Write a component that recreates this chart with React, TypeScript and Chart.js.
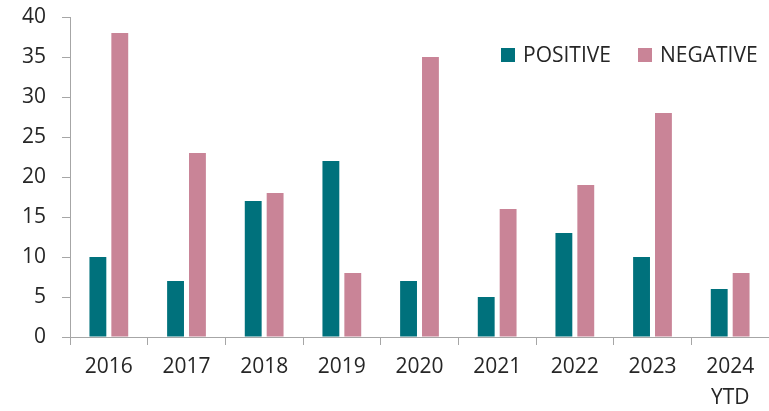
import React, { useEffect, useRef } from "react";
import { Chart, registerables } from "chart.js";

Chart.register(...registerables);

const categories: (string | string[])[] = ["2016", "2017", "2018", "2019", "2020", "2021", "2022", "2023", ["2024", "YTD"]];
const positiveValues = [10, 7, 17, 22, 7, 5, 13, 10, 6];
const negativeValues = [38, 23, 18, 8, 35, 16, 19, 28, 8];
const seriesNames = ["POSITIVE", "NEGATIVE"];
const seriesColors = ["#00717C", "#C98497"];

const FONT = "'Open Sans', sans-serif";
const TEXT = "#262626";
const AXIS = "#A6A6A6";

const legendPlugin = {
  id: "customLegend",
  afterDraw(chart: any) {
    const ctx = chart.ctx;
    ctx.save();
    ctx.font = `21px ${FONT}`;
    ctx.textBaseline = "middle";
    ctx.textAlign = "left";
    const items = [
      { x: 501, label: seriesNames[0], color: seriesColors[0] },
      { x: 638, label: seriesNames[1], color: seriesColors[1] },
    ];
    const y = 55;
    for (const it of items) {
      ctx.fillStyle = it.color;
      ctx.fillRect(it.x, y - 7, 14, 14);
      ctx.fillStyle = TEXT;
      ctx.fillText(it.label, it.x + 22, y + 1);
    }
    ctx.restore();
  },
};

export default function App() {
  const ref = useRef<HTMLCanvasElement | null>(null);
  useEffect(() => {
    if (!ref.current) return;
    const chart = new Chart(ref.current, {
      type: "bar",
      data: {
        labels: categories,
        datasets: [
          {
            label: seriesNames[0],
            data: positiveValues,
            backgroundColor: seriesColors[0],
            categoryPercentage: 0.564,
            barPercentage: 0.77,
          },
          {
            label: seriesNames[1],
            data: negativeValues,
            backgroundColor: seriesColors[1],
            categoryPercentage: 0.564,
            barPercentage: 0.77,
          },
        ],
      },
      options: {
        responsive: false,
        animation: false,
        devicePixelRatio: 1,
        layout: { padding: { left: 0, right: 0, top: 17, bottom: 0 } },
        plugins: {
          legend: { display: false },
          tooltip: { enabled: false },
        },
        scales: {
          x: {
            afterFit(scale: any) {
              scale.height = 74;
              scale.paddingLeft = 0;
              scale.paddingRight = 0;
            },
            grid: {
              display: true,
              drawOnChartArea: false,
              drawTicks: true,
              tickLength: 8,
              color: AXIS,
              offset: true,
            },
            border: { display: true, color: AXIS, width: 1 },
            ticks: {
              color: TEXT,
              font: { family: FONT, size: 21, lineHeight: 1.5 },
              padding: 6,
              maxRotation: 0,
              autoSkip: false,
            },
          },
          y: {
            min: 0,
            max: 40,
            afterFit(scale: any) {
              scale.width = 70;
              scale.paddingTop = 0;
              scale.paddingBottom = 0;
            },
            grid: {
              display: true,
              drawOnChartArea: false,
              drawTicks: true,
              tickLength: 8,
              color: AXIS,
            },
            border: { display: true, color: AXIS, width: 1 },
            ticks: {
              stepSize: 5,
              color: TEXT,
              font: { family: FONT, size: 21 },
              padding: 16,
            },
          },
        },
      },
      plugins: [legendPlugin],
    });
    return () => chart.destroy();
  }, []);
  return (
    <div style={{ position: "absolute", left: 0, top: 0, width: 769, height: 411, background: "#fff" }}>
      <canvas ref={ref} width={769} height={411} style={{ width: 769, height: 411 }} />
    </div>
  );
}
